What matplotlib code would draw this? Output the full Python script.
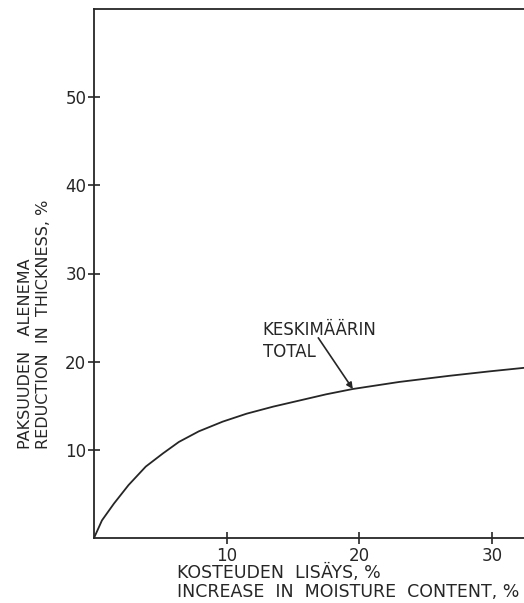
import matplotlib
matplotlib.use("Agg")
import matplotlib.pyplot as plt

# moisture increase (%) vs. reduction in thickness (%), mean curve
moisture = [0, 0.6, 1.5, 2.6, 3.9, 5.2, 6.4, 7.9, 9.7, 11.5, 13.5, 15.5, 17.5, 19.5, 23.0, 26.8, 29.8, 32.4]
reduction = [0, 2.0, 3.9, 6.0, 8.1, 9.6, 10.9, 12.1, 13.2, 14.1, 14.9, 15.6, 16.3, 16.9, 17.7, 18.4, 18.9, 19.3]

x_ticks = [10, 20, 30]
y_ticks = [10, 20, 30, 40, 50]

curve_label = "KESKIMÄÄRIN\nTOTAL"
arrow_at = (19.5, 16.9)

ink = "#262626"
W, H = 524, 603

plt.rcParams["font.family"] = ["DejaVu Sans"]

fig = plt.figure(figsize=(W / 100, H / 100), dpi=100)
ax = fig.add_axes([94 / W, 1 - 538 / H, 1 - 94 / W, (538 - 9) / H])

ax.plot(moisture, reduction, color=ink, lw=1.3, solid_capstyle="round")

ax.set_xlim(0, 32.4)
ax.set_ylim(0, 60)
ax.set_xticks(x_ticks)
ax.set_yticks(y_ticks)
ax.tick_params(direction="inout", length=9, width=1.2, color=ink,
               labelcolor=ink, labelsize=12)
ax.tick_params(axis="y", pad=1)
ax.tick_params(axis="x", pad=2)

for side in ("left", "bottom", "top"):
    ax.spines[side].set_color(ink)
    ax.spines[side].set_linewidth(1.3)
ax.spines["right"].set_visible(False)

ax.text(12.7, 24.6, curve_label, ha="left", va="top", fontsize=12,
        color=ink, linespacing=1.25)
ax.annotate("", xy=arrow_at, xytext=(16.9, 22.7),
            arrowprops=dict(arrowstyle="-|>", color=ink, lw=1.2,
                            mutation_scale=9, shrinkA=0, shrinkB=0))

# axis titles, Finnish above English
fig.text(26 / W, 1 - 449 / H, "PAKSUUDEN   ALENEMA", rotation=90,
         ha="center", va="bottom", fontsize=11.5, color=ink)
fig.text(44 / W, 1 - 449 / H, "REDUCTION  IN  THICKNESS, %", rotation=90,
         ha="center", va="bottom", fontsize=11.5, color=ink)
fig.text(177 / W, 1 - 578 / H, "KOSTEUDEN  LISÄYS, %", ha="left",
         va="baseline", fontsize=12.5, color=ink)
fig.text(177 / W, 1 - 597 / H, "INCREASE  IN  MOISTURE  CONTENT, %",
         ha="left", va="baseline", fontsize=12.5, color=ink)

fig.savefig("out.png", dpi=100)
